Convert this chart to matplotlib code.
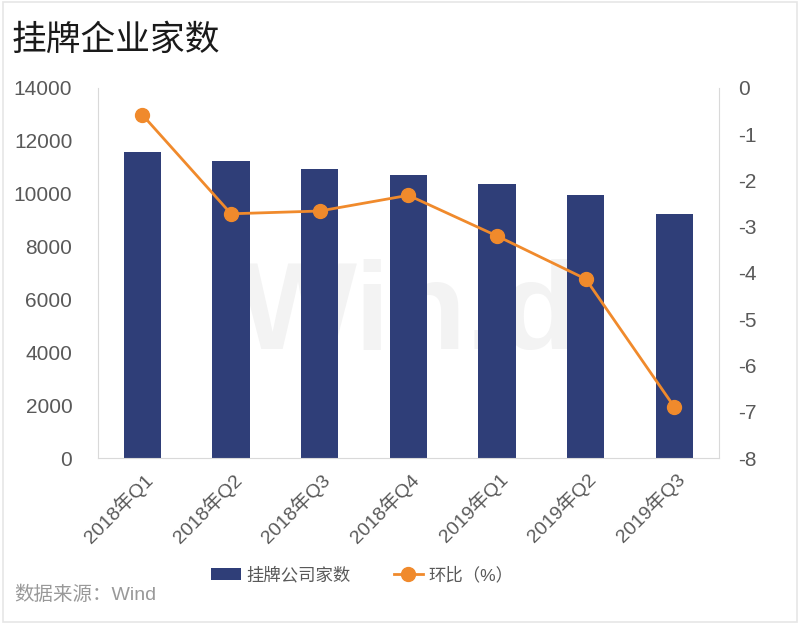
import matplotlib.pyplot as plt
from matplotlib.patches import Rectangle
from matplotlib.transforms import ScaledTranslation

plt.rcParams['font.family'] = ['Liberation Sans', 'Noto Sans CJK SC', 'DejaVu Sans']
plt.rcParams['axes.unicode_minus'] = False

# data
quarters = ['2018年Q1', '2018年Q2', '2018年Q3', '2018年Q4', '2019年Q1', '2019年Q2', '2019年Q3']
companies = [11580, 11240, 10930, 10710, 10370, 9950, 9240]
qoq_pct = [-0.58, -2.72, -2.66, -2.32, -3.20, -4.13, -6.90]

BAR_COLOR = '#2f3e78'
LINE_COLOR = '#f08a2c'
TEXT_COLOR = '#595959'
FRAME_COLOR = '#d9d9d9'

fig = plt.figure(figsize=(8, 6.24), dpi=100)
fig.patches.append(Rectangle((0.004, 0.004), 0.992, 0.992, transform=fig.transFigure,
                             fill=False, edgecolor='#e6e6e6', linewidth=1.2))

ax = fig.add_axes([0.1225, 0.266, 0.776, 0.593])
x = range(len(quarters))
bars = ax.bar(x, companies, width=0.42, color=BAR_COLOR, label='挂牌公司家数', zorder=2)
ax.set_ylim(0, 14000)
ax.set_yticks(range(0, 14001, 2000))
ax.set_xlim(-0.5, len(quarters) - 0.5)
ax.set_xticks(list(x))
ax.set_xticklabels(quarters, rotation=45, ha='right', rotation_mode='anchor',
                   fontsize=14, color=TEXT_COLOR)
shift = ScaledTranslation(-4 / 72, -10 / 72, fig.dpi_scale_trans)
for lbl in ax.get_xticklabels():
    lbl.set_transform(lbl.get_transform() + shift)
ax.tick_params(axis='y', labelsize=15, labelcolor=TEXT_COLOR, length=0, pad=18.5)
ax.tick_params(axis='x', length=0, pad=8)
for side in ['left', 'right', 'bottom']:
    ax.spines[side].set_color(FRAME_COLOR)
ax.spines['top'].set_visible(False)

ax2 = ax.twinx()
line, = ax2.plot(x, qoq_pct, color=LINE_COLOR, linewidth=2, marker='o',
                 markersize=10, label='环比（%）', zorder=3)
ax2.set_ylim(-8, 0)
ax2.set_yticks(range(-8, 1))
ax2.tick_params(axis='y', labelsize=15, labelcolor=TEXT_COLOR, length=0, pad=14)
for side in ['left', 'right', 'bottom', 'top']:
    ax2.spines[side].set_visible(False)

# faint watermark
ax.text(0.5, 0.38, 'Win.d', transform=ax.transAxes, fontsize=90, fontweight='bold',
        color='#f3f3f3', ha='center', va='center', zorder=1)

fig.text(0.015, 0.935, '挂牌企业家数', fontsize=25, color='#1a1a1a', va='center')
fig.text(0.018, 0.046, '数据来源：Wind', fontsize=14, color='#999999', va='center')

fig.legend([bars, line], ['挂牌公司家数', '环比（%）'], loc='center',
           bbox_to_anchor=(0.453, 0.079), ncol=2, frameon=False, fontsize=12.5,
           handlelength=1.7, handletextpad=0.3, columnspacing=2.5,
           labelcolor=TEXT_COLOR)

fig.savefig('out.png', dpi=100)
